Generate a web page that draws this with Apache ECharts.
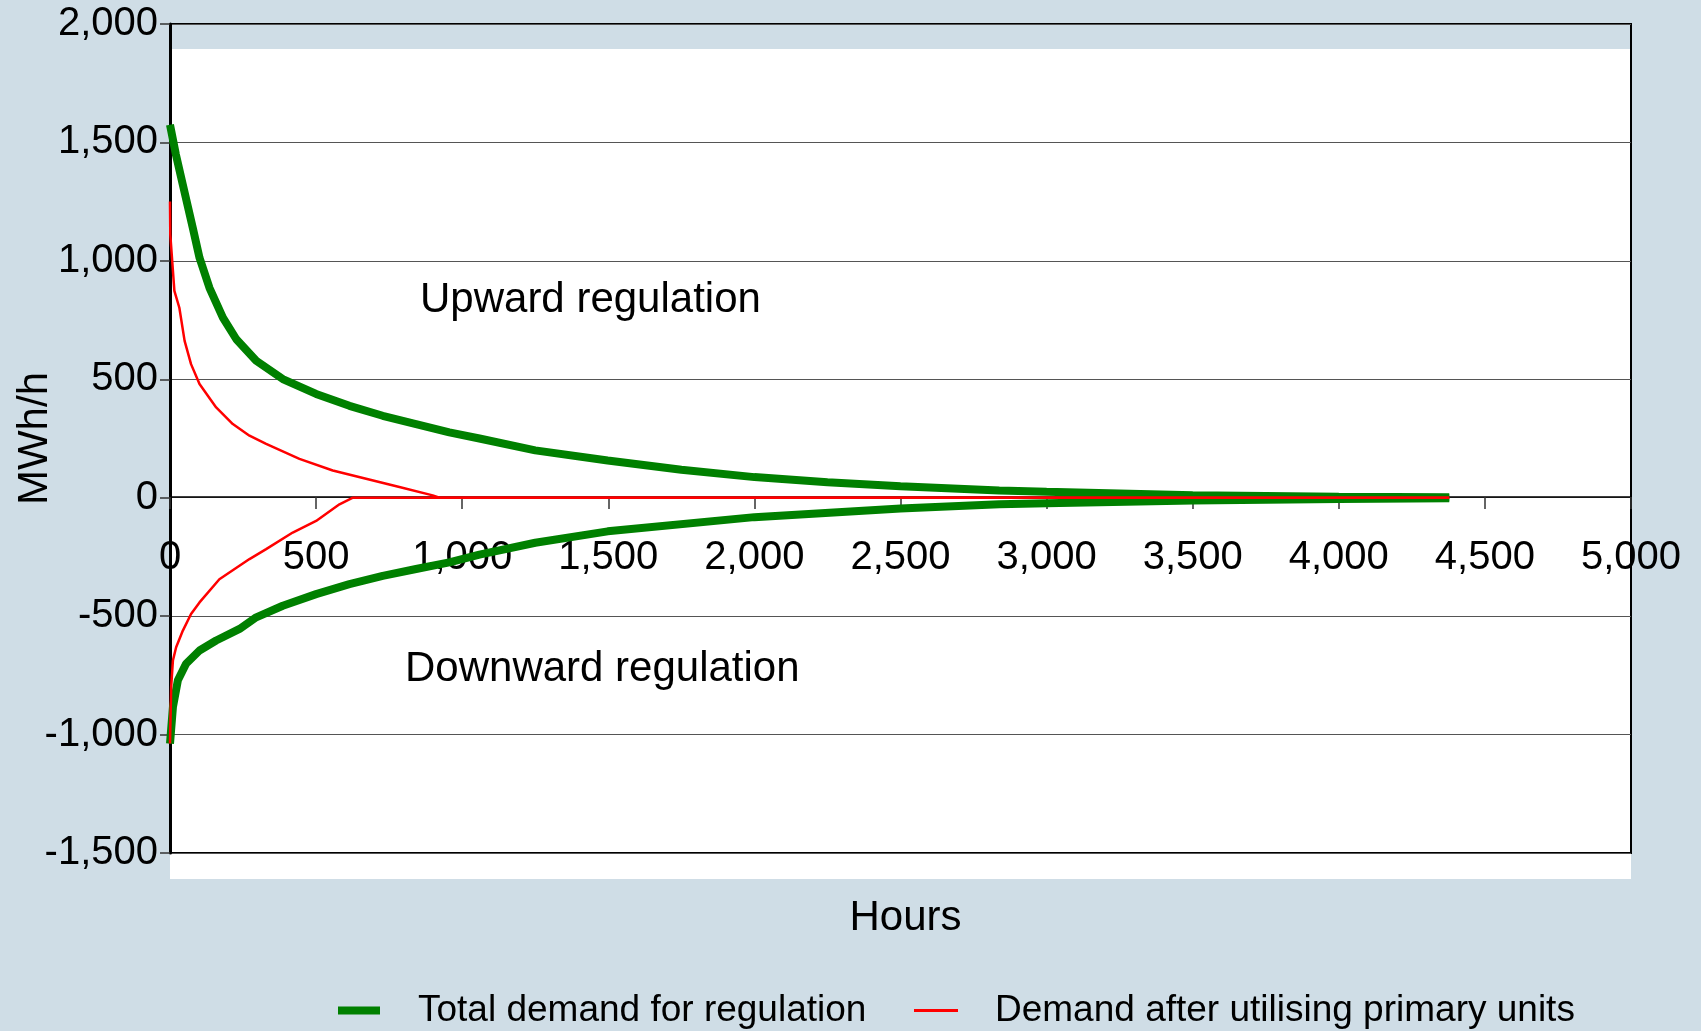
<!DOCTYPE html>
<html>
<head>
<meta charset="utf-8">
<script src="https://cdn.jsdelivr.net/npm/echarts@6/dist/echarts.min.js"></script>
<style>
html,body{margin:0;padding:0;background:#cfdde6;}
#chart{width:1701px;height:1031px;}
</style>
</head>
<body>
<div id="chart"></div>
<script>
// duration curves
var upTotalHours = [0, 20, 44, 78, 101, 135, 181, 227, 295, 386, 500, 614, 728, 842, 956, 1059, 1250, 1498, 1750, 2000, 2250, 2500, 2838, 3000, 3500, 4000, 4378];
var upTotalMW    = [1575, 1450, 1321, 1139, 1013, 886, 760, 669, 578, 501, 438, 388, 346, 311, 276, 250, 200, 157, 118, 87, 65, 48, 30, 25, 10, 4, 2];

var downTotalHours = [0, 10, 27, 55, 101, 158, 238, 295, 386, 500, 614, 728, 842, 956, 1059, 1250, 1498, 2000, 2500, 2838, 3000, 3500, 4000, 4378];
var downTotalMW    = [-1038, -884, -771, -701, -645, -603, -554, -505, -456, -407, -365, -330, -301, -273, -240, -190, -142, -82, -46, -28, -23, -12, -5, -2];

var upPrimaryHours = [0, 1, 15, 32, 50, 72, 101, 158, 215, 272, 329, 443, 557, 671, 785, 899, 922, 4378];
var upPrimaryMW    = [1251, 1111, 873, 802, 662, 564, 480, 381, 311, 262, 227, 164, 115, 80, 45, 10, 0, 0];

var downPrimaryHours = [0, 4, 10, 21, 44, 72, 101, 169, 272, 329, 420, 500, 580, 626, 4378];
var downPrimaryMW    = [-1038, -800, -687, -631, -561, -491, -442, -344, -259, -217, -147, -98, -28, 0, 0];

var totalName = 'Total demand for regulation';
var primaryName = 'Demand after utilising primary units';

function pairs(xs, ys) {
  return xs.map(function (x, i) { return [x, ys[i]]; });
}

var font = '"Liberation Sans", Arial, sans-serif';

var chart = echarts.init(document.getElementById('chart'));
var option = {
  animation: false,
  backgroundColor: '#cfdde6',
  textStyle: { fontFamily: font, color: '#000' },
  grid: {
    left: 170, right: 70, top: 24, bottom: 178,
    containLabel: false, outerBoundsMode: 'none',
    show: true, backgroundColor: 'transparent', borderColor: '#000', borderWidth: 2
  },
  graphic: [
    { type: 'rect', z: -10, shape: { x: 170, y: 49, width: 1461, height: 830 }, style: { fill: '#fff' } },
    { type: 'text', left: 420, top: 279, style: { text: 'Upward regulation', font: '42px ' + font, fill: '#000' } },
    { type: 'text', left: 405, top: 648, style: { text: 'Downward regulation', font: '42px ' + font, fill: '#000' } }
  ],
  xAxis: {
    type: 'value', min: 0, max: 5000, interval: 500,
    position: 'bottom', offset: -356,
    name: 'Hours', nameLocation: 'middle', nameGap: 400, nameMoveOverlap: false,
    nameTextStyle: { fontSize: 42, fontFamily: font, color: '#000', padding: [0, 0, 0, 10] },
    axisLine: { onZero: false, lineStyle: { color: '#000', width: 1.5 } },
    axisTick: { show: true, length: 12, lineStyle: { color: '#333', width: 1.5 } },
    axisLabel: { fontSize: 40, margin: 41, color: '#000', fontFamily: font,
      formatter: function (v) { return v.toLocaleString('en-US'); } },
    splitLine: { show: false }
  },
  yAxis: {
    type: 'value', min: -1500, max: 2000, interval: 500,
    name: 'MWh/h', nameLocation: 'middle', nameGap: 114, nameMoveOverlap: false,
    nameTextStyle: { fontSize: 42, fontFamily: font, color: '#000' },
    axisLine: { show: true, onZero: false, lineStyle: { color: '#000', width: 3 } },
    axisTick: { show: true, length: 10, lineStyle: { color: '#333', width: 1.5 } },
    axisLabel: { fontSize: 40, margin: 12, color: '#000', fontFamily: font,
      formatter: function (v) { return v.toLocaleString('en-US'); } },
    splitLine: { show: true, lineStyle: { color: '#555', width: 1.2 } }
  },
  legend: [
    {
      data: [totalName], left: 333, top: 987, icon: 'rect', itemWidth: 42, itemHeight: 8,
      selectedMode: false,
      textStyle: { fontSize: 37, fontFamily: font, color: '#000', padding: [0, 0, 0, 33] }
    },
    {
      data: [primaryName], left: 909, top: 987, icon: 'rect', itemWidth: 44, itemHeight: 3,
      selectedMode: false,
      textStyle: { fontSize: 37, fontFamily: font, color: '#000', padding: [0, 0, 0, 32] }
    }
  ],
  series: [
    { name: totalName, type: 'line', showSymbol: false, data: pairs(upTotalHours, upTotalMW),
      lineStyle: { color: '#008000', width: 8 }, itemStyle: { color: '#008000' } },
    { name: totalName, type: 'line', showSymbol: false, data: pairs(downTotalHours, downTotalMW),
      lineStyle: { color: '#008000', width: 8 }, itemStyle: { color: '#008000' } },
    { name: primaryName, type: 'line', showSymbol: false, data: pairs(upPrimaryHours, upPrimaryMW),
      lineStyle: { color: '#ff0000', width: 2.5 }, itemStyle: { color: '#ff0000' } },
    { name: primaryName, type: 'line', showSymbol: false, data: pairs(downPrimaryHours, downPrimaryMW),
      lineStyle: { color: '#ff0000', width: 2.5 }, itemStyle: { color: '#ff0000' } }
  ]
};
chart.setOption(option);
</script>
</body>
</html>
